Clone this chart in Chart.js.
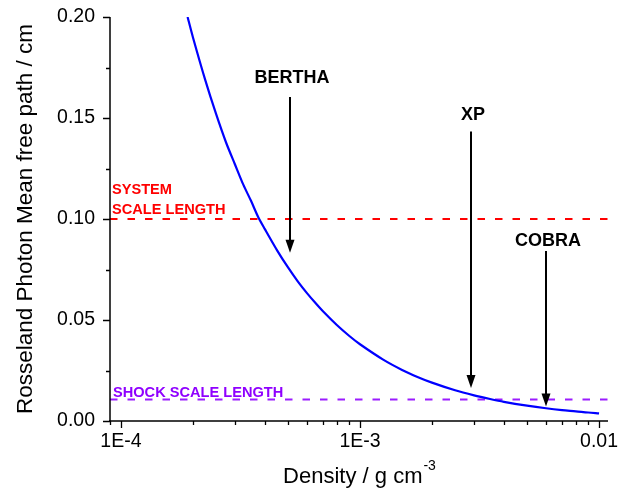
<!DOCTYPE html>
<html>
<head>
<meta charset="utf-8">
<script src="https://cdn.jsdelivr.net/npm/chart.js@4.4.0/dist/chart.umd.min.js"></script>
<style>
  html, body { margin: 0; padding: 0; background: #fff; }
  #wrap { width: 625px; height: 494px; }
</style>
</head>
<body>
<div id="wrap"><canvas id="c" width="625" height="494"></canvas></div>
<script>
// ---- data ----
const density = [1.9e-4, 2.0e-4, 2.25e-4, 2.5e-4, 2.75e-4, 3.0e-4, 3.25e-4, 3.5e-4, 3.75e-4, 4.0e-4,
                 4.5e-4, 5.0e-4, 5.5e-4, 6.0e-4, 6.5e-4, 7.0e-4, 8.0e-4, 9.0e-4, 1.0e-3, 1.25e-3,
                 1.5e-3, 1.75e-3, 2.0e-3, 2.5e-3, 3.0e-3, 3.5e-3, 4.0e-3, 5.0e-3, 6.0e-3, 7.0e-3,
                 8.0e-3, 9.0e-3, 1.0e-2];
const meanFreePath = [0.200, 0.190, 0.169, 0.152, 0.138, 0.127, 0.117, 0.109, 0.101, 0.095,
                      0.0845, 0.076, 0.069, 0.0633, 0.0585, 0.0543, 0.0475, 0.0422, 0.038, 0.0304,
                      0.0253, 0.0217, 0.019, 0.0152, 0.0127, 0.0109, 0.0095, 0.0076, 0.0063, 0.0054,
                      0.0048, 0.0042, 0.0038];
const xMin = 9.0e-5, xMax = 0.0109;
const yMin = 0, yMax = 0.20;
const systemScaleLength = 0.100;
const shockScaleLength = 0.0106;
const xTickValues = [1e-4, 1e-3, 1e-2];
const xTickLabels = ['1E-4', '1E-3', '0.01'];
const yTickValues = [0, 0.05, 0.10, 0.15, 0.20];
const yTickLabels = ['0.00', '0.05', '0.10', '0.15', '0.20'];
const arrowNames = ['BERTHA', 'XP', 'COBRA'];
const arrowDensity = [5.1e-4, 2.92e-3, 6.0e-3];
const arrowTop = [0.1604, 0.1433, 0.0841];
const arrowTip = [0.0833, 0.0163, 0.0072];
const arrowLabelY = [0.1698, 0.1516, 0.0892];
const systemLabelLines = ['SYSTEM', 'SCALE LENGTH'];
const systemLabelY = [0.1144, 0.1045];
const shockLabel = 'SHOCK SCALE LENGTH';
const shockLabelY = 0.0141;
const xTitle = 'Density / g cm';
const xTitleSup = '-3';
const yTitle = 'Rosseland Photon Mean free path / cm';

const FONT = '"Liberation Sans", Arial, sans-serif';

const annotate = {
  id: 'annotate',
  afterDatasetsDraw(chart) {
    const ctx = chart.ctx, xs = chart.scales.x, ys = chart.scales.y, ca = chart.chartArea;
    ctx.save();
    ctx.strokeStyle = '#000'; ctx.fillStyle = '#000'; ctx.lineWidth = 2;
    for (let i = 0; i < arrowNames.length; i++) {
      const px = Math.round(xs.getPixelForValue(arrowDensity[i]));
      const pt = ys.getPixelForValue(arrowTop[i]);
      const pb = ys.getPixelForValue(arrowTip[i]);
      ctx.beginPath(); ctx.moveTo(px, pt); ctx.lineTo(px, pb - 8); ctx.stroke();
      ctx.beginPath(); ctx.moveTo(px, pb); ctx.lineTo(px - 4.5, pb - 13); ctx.lineTo(px + 4.5, pb - 13); ctx.closePath(); ctx.fill();
      ctx.font = 'bold 18px ' + FONT;
      ctx.textAlign = 'center'; ctx.textBaseline = 'middle';
      ctx.fillText(arrowNames[i], px + 2, ys.getPixelForValue(arrowLabelY[i]));
    }
    ctx.textAlign = 'left'; ctx.textBaseline = 'middle';
    ctx.font = 'bold 14.6px ' + FONT;
    ctx.fillStyle = '#ff0000';
    for (let i = 0; i < systemLabelLines.length; i++) {
      ctx.fillText(systemLabelLines[i], ca.left + 2, ys.getPixelForValue(systemLabelY[i]));
    }
    ctx.fillStyle = '#8f00ff';
    ctx.fillText(shockLabel, ca.left + 3, ys.getPixelForValue(shockLabelY));
    ctx.restore();
  },
  afterDraw(chart) {
    const ctx = chart.ctx, xs = chart.scales.x, ys = chart.scales.y, ca = chart.chartArea;
    ctx.save();
    ctx.strokeStyle = '#000'; ctx.lineWidth = 1.5;
    ctx.beginPath();
    ctx.moveTo(ca.left, ca.top); ctx.lineTo(ca.left, ca.bottom + 1);
    ctx.moveTo(ca.left - 1, ca.bottom); ctx.lineTo(ca.right, ca.bottom);
    ctx.stroke();
    ctx.lineWidth = 1.3;
    ctx.beginPath();
    for (let v = 0; v <= 8; v++) {
      const val = v * 0.025;
      const py = Math.round(ys.getPixelForValue(val)) + 0.5;
      const len = v % 2 === 0 ? 7 : 4;
      ctx.moveTo(ca.left, py); ctx.lineTo(ca.left - len, py);
    }
    for (let d = -5; d <= -2; d++) {
      for (let m = 1; m <= 9; m++) {
        const val = m * Math.pow(10, d);
        if (val < xMin || val > xMax) continue;
        const px = Math.round(xs.getPixelForValue(val)) + 0.5;
        const len = m === 1 ? 7 : 4;
        ctx.moveTo(px, ca.bottom); ctx.lineTo(px, ca.bottom + len);
      }
    }
    ctx.stroke();
    ctx.fillStyle = '#000';
    ctx.font = '22px ' + FONT;
    const w1 = ctx.measureText(xTitle).width;
    ctx.font = '14px ' + FONT;
    const w2 = ctx.measureText(xTitleSup).width;
    const cx = (ca.left + ca.right) / 2;
    const startX = cx - (w1 + w2) / 2;
    ctx.textAlign = 'left'; ctx.textBaseline = 'alphabetic';
    ctx.font = '22px ' + FONT;
    ctx.fillText(xTitle, startX, 483);
    ctx.font = '14px ' + FONT;
    ctx.fillText(xTitleSup, startX + w1 + 1, 470);
    ctx.save();
    ctx.translate(26, (ca.top + ca.bottom) / 2);
    ctx.rotate(-Math.PI / 2);
    ctx.font = '22.5px ' + FONT;
    ctx.textAlign = 'center'; ctx.textBaseline = 'middle';
    ctx.fillText(yTitle, 0, 0);
    ctx.restore();
    ctx.restore();
  }
};

new Chart(document.getElementById('c'), {
  type: 'line',
  data: {
    datasets: [
      {
        label: 'mfp',
        data: density.map((d, i) => ({ x: d, y: meanFreePath[i] })),
        borderColor: '#0000ff', borderWidth: 2.2, pointRadius: 0,
        tension: 0.3, fill: false
      },
      {
        label: 'system',
        data: [{ x: xMin, y: systemScaleLength }, { x: xMax, y: systemScaleLength }],
        borderColor: '#ff0000', borderWidth: 2, borderDash: [7.5, 10], pointRadius: 0
      },
      {
        label: 'shock',
        data: [{ x: xMin, y: shockScaleLength }, { x: xMax, y: shockScaleLength }],
        borderColor: '#9b1cff', borderWidth: 2, borderDash: [7.5, 10], pointRadius: 0
      }
    ]
  },
  options: {
    responsive: false,
    animation: false,
    devicePixelRatio: 1,
    layout: { padding: { left: 0, top: 17, right: 17, bottom: 0 } },
    plugins: { legend: { display: false }, tooltip: { enabled: false } },
    scales: {
      x: {
        type: 'logarithmic', min: xMin, max: xMax,
        border: { display: false },
        grid: { display: false, drawTicks: false },
        afterBuildTicks: (s) => { s.ticks = xTickValues.map(v => ({ value: v })); },
        afterFit: (s) => { s.height = 73; s.paddingLeft = 0; s.paddingRight = 0; },
        ticks: {
          autoSkip: false, maxRotation: 0, padding: 9,
          color: '#000', font: { family: FONT, size: 19.5 },
          callback: (v, i) => xTickLabels[i]
        }
      },
      y: {
        type: 'linear', min: yMin, max: yMax,
        border: { display: false },
        grid: { display: false, drawTicks: false },
        afterBuildTicks: (s) => { s.ticks = yTickValues.map(v => ({ value: v })); },
        afterFit: (s) => { s.width = 110; s.paddingTop = 0; s.paddingBottom = 0; },
        ticks: {
          autoSkip: false, padding: 15,
          color: '#000', font: { family: FONT, size: 19.5 },
          callback: (v, i) => yTickLabels[i]
        }
      }
    }
  },
  plugins: [annotate]
});
</script>
</body>
</html>
